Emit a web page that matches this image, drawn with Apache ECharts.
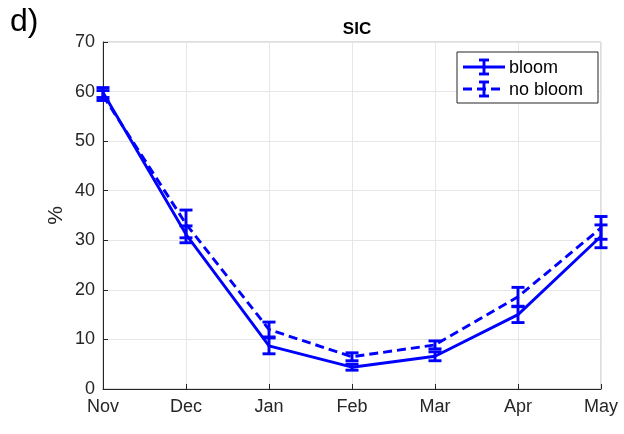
<!DOCTYPE html>
<html>
<head>
<meta charset="utf-8">
<script src="https://cdn.jsdelivr.net/npm/echarts@6/dist/echarts.min.js"></script>
<style>
  html, body { margin: 0; padding: 0; background: #fff; }
  #chart { width: 624px; height: 434px; }
</style>
</head>
<body>
<div id="chart"></div>
<script>
// Months on the x axis
const months = ['Nov', 'Dec', 'Jan', 'Feb', 'Mar', 'Apr', 'May'];

// Mean sea-ice concentration (%) and its error half-width
const bloomMean = [59.8, 31.2, 8.7, 4.4, 6.6, 15.0, 30.8];
const bloomErr = [1.0, 1.7, 1.6, 0.6, 0.9, 1.6, 2.3];
const noBloomMean = [59.2, 33.3, 12.0, 6.5, 8.9, 18.6, 32.5];
const noBloomErr = [1.0, 2.8, 1.5, 0.8, 0.8, 1.9, 2.3];

const yTicks = [0, 10, 20, 30, 40, 50, 60, 70];

const BLUE = '#0000ff';
const FONT = '"Liberation Sans", Arial, sans-serif';
const DASH = [9, 5];
const LW = 2.9;

function errData(mean, err) {
  return mean.map((m, i) => [i, m - err[i], m + err[i]]);
}

function errRender(params, api) {
  const x = api.value(0);
  const lo = api.coord([x, api.value(1)]);
  const hi = api.coord([x, api.value(2)]);
  const w = 6.5;
  const style = { stroke: BLUE, lineWidth: LW, fill: null };
  return {
    type: 'group',
    children: [
      { type: 'line', shape: { x1: lo[0], y1: lo[1], x2: hi[0], y2: hi[1] }, style },
      { type: 'line', shape: { x1: lo[0] - w, y1: lo[1], x2: lo[0] + w, y2: lo[1] }, style },
      { type: 'line', shape: { x1: hi[0] - w, y1: hi[1], x2: hi[0] + w, y2: hi[1] }, style }
    ]
  };
}

const chart = echarts.init(document.getElementById('chart'), null, { renderer: 'canvas' });

// Legend box drawn in the top-right corner
const lgX = 457, lgY = 52, lgW = 141, lgH = 51;
function legendRow(y, dashed, label) {
  const s = { stroke: BLUE, lineWidth: LW };
  const ls = dashed ? Object.assign({ lineDash: DASH }, s) : s;
  const cx = lgX + 27;
  return [
    { type: 'line', z: 100, shape: { x1: lgX + 6, y1: y, x2: lgX + 48, y2: y }, style: ls },
    { type: 'line', z: 100, shape: { x1: cx, y1: y - 7, x2: cx, y2: y + 7 }, style: s },
    { type: 'line', z: 100, shape: { x1: cx - 5, y1: y - 7, x2: cx + 5, y2: y - 7 }, style: s },
    { type: 'line', z: 100, shape: { x1: cx - 5, y1: y + 7, x2: cx + 5, y2: y + 7 }, style: s },
    { type: 'text', z: 100, x: lgX + 52, y: y - 8, style: { text: label, font: '18px ' + FONT, fill: '#000' } }
  ];
}

chart.setOption({
  animation: false,
  backgroundColor: '#fff',
  grid: { left: 103, right: 23, top: 42, bottom: 45, show: true, borderColor: '#bdbdbd', borderWidth: 1 },
  title: {
    text: 'SIC', left: 352, top: 16, textAlign: 'center',
    textStyle: { fontFamily: FONT, fontSize: 17, fontWeight: 'bold', color: '#000' }
  },
  xAxis: {
    type: 'category', data: months, boundaryGap: false,
    axisLine: { lineStyle: { color: '#262626', width: 1 } },
    axisTick: { inside: true, length: 5, lineStyle: { color: '#262626' } },
    axisLabel: { fontFamily: FONT, fontSize: 18, color: '#262626', margin: 9 },
    splitLine: { show: true, lineStyle: { color: '#e6e6e6', width: 1 } }
  },
  yAxis: {
    type: 'value', min: yTicks[0], max: yTicks[yTicks.length - 1], interval: 10,
    name: '%', nameLocation: 'middle', nameGap: 36, nameRotate: 90, nameMoveOverlap: false,
    nameTextStyle: { fontFamily: FONT, fontSize: 21, color: '#262626' },
    axisLine: { show: true, lineStyle: { color: '#262626', width: 1 } },
    axisTick: { show: true, inside: true, length: 5, lineStyle: { color: '#262626' } },
    axisLabel: { fontFamily: FONT, fontSize: 18, color: '#262626', margin: 8 },
    splitLine: { show: true, lineStyle: { color: '#e6e6e6', width: 1 } }
  },
  series: [
    {
      name: 'bloom', type: 'line', data: bloomMean, symbol: 'none',
      lineStyle: { color: BLUE, width: LW }, z: 3
    },
    {
      name: 'no bloom', type: 'line', data: noBloomMean, symbol: 'none',
      lineStyle: { color: BLUE, width: LW, type: DASH }, z: 3
    },
    { type: 'custom', data: errData(bloomMean, bloomErr), renderItem: errRender, z: 4 },
    { type: 'custom', data: errData(noBloomMean, noBloomErr), renderItem: errRender, z: 4 }
  ],
  graphic: [
    { type: 'text', left: 10, top: 6, style: { text: 'd)', font: '32px ' + FONT, fill: '#000' } },
    { type: 'rect', z: 99, shape: { x: lgX, y: lgY, width: lgW, height: lgH }, style: { fill: '#fff', stroke: '#262626', lineWidth: 1 } }
  ].concat(legendRow(lgY + 15, false, 'bloom'), legendRow(lgY + 37, true, 'no bloom'))
});
</script>
</body>
</html>
